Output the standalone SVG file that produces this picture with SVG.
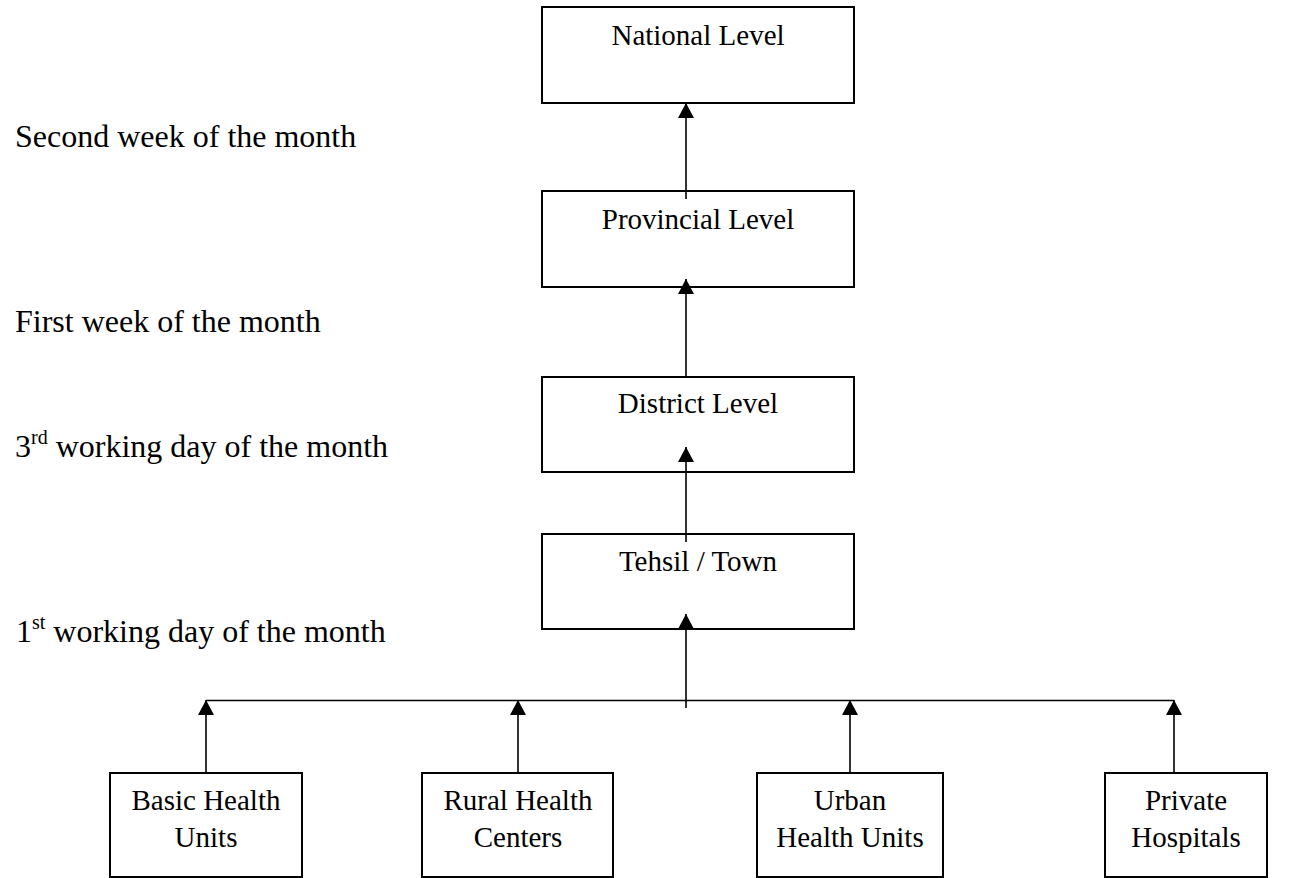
<svg xmlns="http://www.w3.org/2000/svg" width="1292" height="878" viewBox="0 0 1292 878">
<style>
.box{fill:#fff;stroke:#000;stroke-width:2}
.lbl{font-family:"Liberation Serif","Times New Roman",serif;font-size:29px;fill:#000;text-anchor:middle}
.side{font-family:"Liberation Serif","Times New Roman",serif;font-size:32px;fill:#000}
.sup{font-size:20px}
.ln{stroke:#000;stroke-width:1.6;fill:none}
</style>
<defs>
<marker id="ah" markerUnits="userSpaceOnUse" markerWidth="16" markerHeight="16" refX="15" refY="8" orient="auto">
<path d="M0,0 L15,8 L0,16 Z" fill="#000"/>
</marker>
</defs>
<rect width="1292" height="878" fill="#fff"/>

<g id="labels">
<text class="side" x="15" y="147">Second week of the month</text>
<text class="side" x="15" y="332">First week of the month</text>
<text class="side" x="15" y="457">3<tspan class="sup" dy="-13">rd</tspan><tspan dy="13"> working day of the month</tspan></text>
<text class="side" x="16" y="642">1<tspan class="sup" dy="-13">st</tspan><tspan dy="13"> working day of the month</tspan></text>
</g>

<g id="national"><rect class="box" x="542" y="7" width="312" height="96"/><text class="lbl" x="698" y="45">National Level</text></g>
<g id="provincial"><rect class="box" x="542" y="191" width="312" height="96"/><text class="lbl" x="698" y="229">Provincial Level</text></g>
<g id="district"><rect class="box" x="542" y="377" width="312" height="95"/><text class="lbl" x="698" y="413">District Level</text></g>
<g id="tehsil"><rect class="box" x="542" y="534" width="312" height="95"/><text class="lbl" x="698" y="571">Tehsil / Town</text></g>

<g id="bhu"><rect class="box" x="110" y="773" width="192" height="104"/><text class="lbl" x="206" y="810">Basic Health</text><text class="lbl" x="206" y="847">Units</text></g>
<g id="rhc"><rect class="box" x="422" y="773" width="191" height="104"/><text class="lbl" x="518" y="810">Rural Health</text><text class="lbl" x="518" y="847">Centers</text></g>
<g id="uhu"><rect class="box" x="757" y="773" width="186" height="104"/><text class="lbl" x="850" y="810">Urban</text><text class="lbl" x="850" y="847">Health Units</text></g>
<g id="private"><rect class="box" x="1105" y="773" width="162" height="104"/><text class="lbl" x="1186" y="810">Private</text><text class="lbl" x="1186" y="847">Hospitals</text></g>

<g id="connectors">
<line class="ln" x1="686" y1="199" x2="686" y2="103" marker-end="url(#ah)"/>
<line class="ln" x1="686" y1="377" x2="686" y2="279" marker-end="url(#ah)"/>
<line class="ln" x1="686" y1="542" x2="686" y2="447" marker-end="url(#ah)"/>
<line class="ln" x1="686" y1="708" x2="686" y2="614" marker-end="url(#ah)"/>
<line class="ln" x1="206" y1="700.5" x2="1174" y2="700.5"/>
<line class="ln" x1="206" y1="773" x2="206" y2="700" marker-end="url(#ah)"/>
<line class="ln" x1="518" y1="773" x2="518" y2="700" marker-end="url(#ah)"/>
<line class="ln" x1="850" y1="773" x2="850" y2="700" marker-end="url(#ah)"/>
<line class="ln" x1="1174" y1="773" x2="1174" y2="700" marker-end="url(#ah)"/>
</g>
</svg>
